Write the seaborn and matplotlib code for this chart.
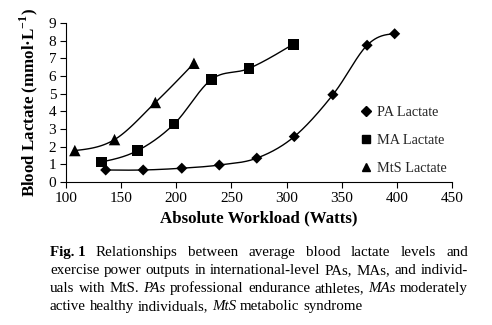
import numpy as np
import pandas as pd
import matplotlib
matplotlib.use("Agg")
import matplotlib.pyplot as plt
import seaborn as sns
from matplotlib.lines import Line2D

# ---- data ----
pa_x = [136, 170, 205, 239, 273, 307, 342, 373, 398]
pa_y = [0.68, 0.68, 0.78, 0.96, 1.35, 2.57, 4.94, 7.74, 8.39]
ma_x = [132, 165, 198, 232, 266, 306]
ma_y = [1.13, 1.78, 3.28, 5.81, 6.43, 7.80]
mts_x = [108, 144, 181, 216]
mts_y = [1.78, 2.40, 4.50, 6.72]
series_names = ["PA Lactate", "MA Lactate", "MtS Lactate"]
x_ticks = [100, 150, 200, 250, 300, 350, 400, 450]
y_ticks = [0, 1, 2, 3, 4, 5, 6, 7, 8, 9]

sns.set_theme(style="ticks")
plt.rcParams["font.family"] = ["Liberation Serif", "DejaVu Serif"]

fig = plt.figure(figsize=(4.92, 3.25), dpi=100)
ax = fig.add_axes([66 / 492, 1 - 182 / 325, (452 - 66) / 492, (182 - 23) / 325])
ax.set_xlim(100, 450)
ax.set_ylim(0, 9)


def smooth_line(xs, ys, alpha=0.0, n=40):
    """Catmull-Rom smoothed line (Excel-like), built in display space."""
    P = ax.transData.transform(np.column_stack([xs, ys]).astype(float))
    m = len(P)
    d = np.linalg.norm(np.diff(P, axis=0), axis=1) ** alpha
    T = np.zeros_like(P)
    for i in range(1, m - 1):
        T[i] = (P[i] - P[i - 1]) / d[i - 1] - (P[i + 1] - P[i - 1]) / (d[i - 1] + d[i]) \
            + (P[i + 1] - P[i]) / d[i]
    T[0] = (3 * (P[1] - P[0]) / d[0] - T[1]) / 2
    T[-1] = (3 * (P[-1] - P[-2]) / d[-1] - T[-2]) / 2
    out = []
    for i in range(m - 1):
        c1 = P[i] + T[i] * d[i] / 3
        c2 = P[i + 1] - T[i + 1] * d[i] / 3
        t = np.linspace(0, 1, n)[:, None]
        b = ((1 - t) ** 3) * P[i] + 3 * ((1 - t) ** 2) * t * c1 + 3 * (1 - t) * t ** 2 * c2 + t ** 3 * P[i + 1]
        out.append(b if i == 0 else b[1:])
    return ax.transData.inverted().transform(np.vstack(out))


frames = []
for name, xs, ys in zip(series_names, [pa_x, ma_x, mts_x], [pa_y, ma_y, mts_y]):
    frames.append(pd.DataFrame({"x": xs, "y": ys, "series": name}))
df = pd.concat(frames, ignore_index=True)

markers = {"PA Lactate": "D", "MA Lactate": "s", "MtS Lactate": "^"}
sizes = {"PA Lactate": 32, "MA Lactate": 60, "MtS Lactate": 68}

for name, xs, ys in zip(series_names, [pa_x, ma_x, mts_x], [pa_y, ma_y, mts_y]):
    c = smooth_line(xs, ys)
    ax.plot(c[:, 0], c[:, 1], color="black", lw=1.0, zorder=2)

for name in series_names:
    sub = df[df.series == name]
    sns.scatterplot(data=sub, x="x", y="y", marker=markers[name], s=sizes[name],
                    color="black", edgecolor="none", ax=ax, zorder=3, legend=False)

ax.set_xlim(100, 450)
ax.set_ylim(0, 9)
ax.set_xticks(x_ticks)
ax.set_yticks(y_ticks)
ax.tick_params(axis="both", labelsize=11, length=4, width=0.8, color="black", pad=3)
for lab in ax.get_xticklabels() + ax.get_yticklabels():
    lab.set_color("black")
sns.despine(ax=ax)
for s in ["left", "bottom"]:
    ax.spines[s].set_color("black")
    ax.spines[s].set_linewidth(0.8)

ax.set_xlabel("Absolute Workload (Watts)", fontsize=12.2, fontweight="bold", labelpad=4, color="black")
ax.set_ylabel("Blood Lactate (mmol\u00b7L$^{\\mathregular{-1}}$)", fontsize=12.2, fontweight="bold",
              labelpad=6, color="black")

# legend (markers only)
handles = [Line2D([], [], marker=markers[n], color="black", ls="none",
                  markersize={"PA Lactate": 5, "MA Lactate": 6, "MtS Lactate": 6}[n]) for n in series_names]
ax.legend(handles, series_names, loc="upper left", bbox_to_anchor=(0.74, 0.515), frameon=False,
          fontsize=10.3, labelspacing=1.04, handletextpad=0.15, handlelength=1.2, borderaxespad=0)

# caption, justified
cap_lines = [
    [("Fig. 1", "bold"), ("Relationships", ""), ("between", ""), ("average", ""), ("blood", ""),
     ("lactate", ""), ("levels", ""), ("and", "")],
    [(w, "") for w in "exercise power outputs in international-level PAs, MAs, and individ-".split()],
    [(w, "") for w in "uals with MtS.".split()] + [("PAs", "italic")] +
    [(w, "") for w in "professional endurance athletes,".split()] + [("MAs", "italic"), ("moderately", "")],
    [(w, "") for w in "active healthy individuals,".split()] + [("MtS", "italic")] +
    [(w, "") for w in "metabolic syndrome".split()],
]
justify = [True, True, True, False]
left_px, right_px = 50, 468
baselines = [256, 274, 292, 310]
cap_size = 10.8

renderer = fig.canvas.get_renderer()
for line, just, base in zip(cap_lines, justify, baselines):
    texts = []
    for w, st in line:
        kw = {}
        if st == "bold":
            kw["fontweight"] = "bold"
        if st == "italic":
            kw["fontstyle"] = "italic"
        t = fig.text(0, 1 - base / 325, w, fontsize=cap_size, va="baseline", ha="left",
                     family=["Liberation Serif"], color="black", **kw)
        texts.append(t)
    widths = [t.get_window_extent(renderer).width for t in texts]
    if just:
        gap = (right_px - left_px - sum(widths)) / (len(texts) - 1)
    else:
        gap = cap_size * 1.389 * 0.25
    x = left_px
    for t, wdt in zip(texts, widths):
        t.set_x(x / 492)
        x += wdt + gap

fig.savefig("out.png", dpi=100)
